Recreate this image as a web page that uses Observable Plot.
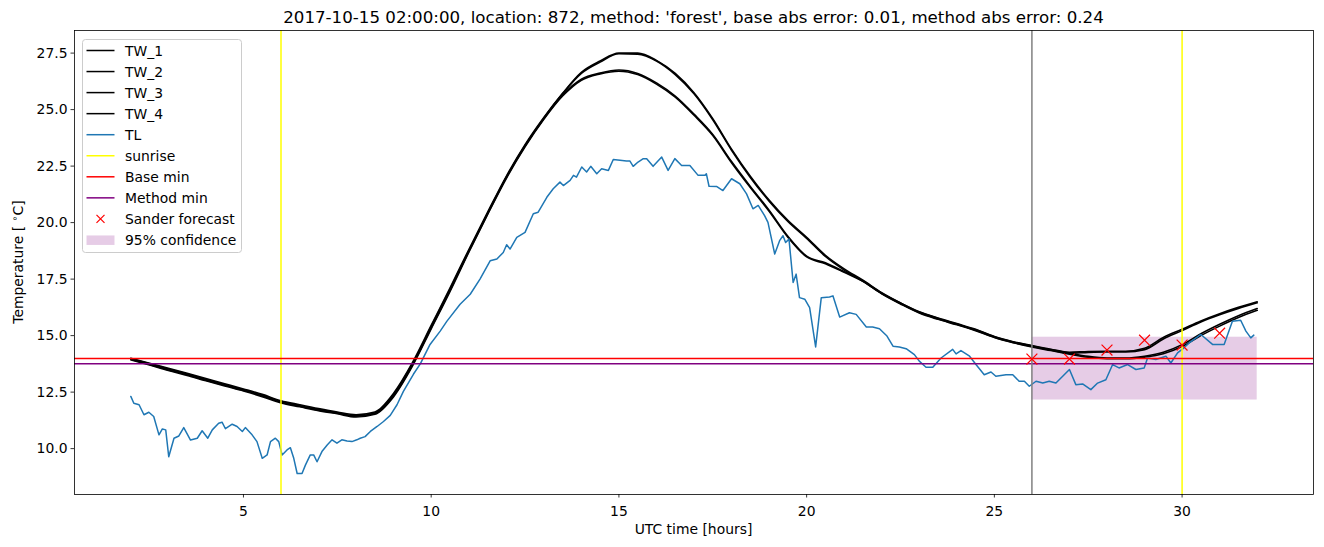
<!DOCTYPE html>
<html><head><meta charset="utf-8">
<script src="https://cdn.jsdelivr.net/npm/d3@7"></script>
<script src="https://cdn.jsdelivr.net/npm/@observablehq/plot@0.6"></script>
<style>
body{margin:0;background:#fff;font-family:"DejaVu Sans",sans-serif;}
#wrap{position:relative;width:1324px;height:547px;}
</style></head><body><div id="wrap"></div>
<script>
const title = "2017-10-15 02:00:00, location: 872, method: 'forest', base abs error: 0.01, method abs error: 0.24";
const xLabel = "UTC time [hours]";

const hours = [2,2.5,3,3.5,4,4.5,5,5.5,6,6.5,7,7.5,8,8.5,9,9.5,10,10.5,11,11.5,12,12.5,13,13.5,14,14.5,15,15.5,16,16.5,17,17.5,18,18.5,19,19.5,20,20.5,21,21.5,22,22.5,23,23.5,24,24.5,25,25.5,26,26.5,27,27.5,28,28.5,29,29.5,30,30.5,31,31.5,32];
const TW_1 = [14.0,13.78,13.56,13.33,13.1,12.87,12.64,12.4,12.12,11.94,11.77,11.62,11.5,11.62,12.45,13.8,15.45,17.1,18.8,20.45,22.05,23.45,24.65,25.72,26.65,27.15,27.5,27.5,27.18,26.6,25.75,24.6,23.25,22.05,21.0,20.1,19.35,18.55,17.95,17.45,16.9,16.45,16.06,15.78,15.53,15.28,14.96,14.73,14.56,14.4,14.26,14.3,14.31,14.31,14.44,14.92,15.28,15.65,15.97,16.25,16.5];
const TW_2 = [13.95,13.72,13.48,13.27,13.03,12.8,12.58,12.33,12.05,11.88,11.7,11.57,11.45,11.55,12.35,13.7,15.35,17.0,18.72,20.38,22.0,23.4,24.62,25.7,26.6,27.1,27.47,27.45,27.15,26.55,25.7,24.55,23.2,22.0,20.95,20.05,19.3,18.5,17.9,17.4,16.86,16.42,16.02,15.74,15.5,15.24,14.93,14.7,14.52,14.36,14.22,14.26,14.28,14.28,14.38,14.85,15.22,15.6,15.92,16.2,16.45];
const TW_3 = [13.98,13.75,13.52,13.3,13.06,12.83,12.6,12.36,12.08,11.9,11.73,11.58,11.44,11.58,12.4,13.75,15.4,17.05,18.75,20.4,22.0,23.4,24.6,25.65,26.35,26.62,26.75,26.6,26.18,25.6,24.8,23.9,22.7,21.6,20.55,19.4,18.52,18.22,17.83,17.42,16.88,16.44,16.04,15.76,15.51,15.26,14.95,14.72,14.54,14.38,14.22,14.08,14.01,14.01,14.09,14.26,14.6,15.08,15.5,15.88,16.2];
const TW_4 = [13.93,13.7,13.46,13.24,13.0,12.77,12.55,12.3,12.02,11.85,11.68,11.54,11.4,11.52,12.3,13.65,15.3,16.95,18.68,20.35,21.95,23.35,24.57,25.6,26.3,26.58,26.7,26.55,26.13,25.55,24.75,23.85,22.65,21.55,20.5,19.35,18.48,18.18,17.8,17.4,16.85,16.4,16.0,15.72,15.48,15.22,14.92,14.69,14.5,14.34,14.18,14.04,13.98,13.98,14.05,14.2,14.52,15.0,15.42,15.8,16.12];

const tlHours = [2.0,2.08,2.22,2.35,2.48,2.61,2.75,2.84,2.93,3.01,3.15,3.28,3.41,3.59,3.77,3.9,4.05,4.17,4.34,4.43,4.52,4.7,4.83,4.97,5.05,5.23,5.36,5.5,5.63,5.72,5.85,5.94,6.03,6.16,6.25,6.34,6.43,6.56,6.65,6.78,6.87,6.96,7.09,7.23,7.36,7.49,7.62,7.76,7.89,8.02,8.11,8.24,8.38,8.56,8.73,8.91,9.09,9.26,9.53,9.71,9.97,10.24,10.42,10.77,11.04,11.3,11.57,11.75,11.92,12.01,12.1,12.28,12.5,12.72,12.85,13.08,13.25,13.43,13.52,13.7,13.79,13.87,14.01,14.14,14.25,14.41,14.54,14.72,14.85,15.03,15.2,15.29,15.38,15.51,15.65,15.74,15.91,16.14,16.31,16.49,16.67,16.89,17.11,17.29,17.33,17.4,17.6,17.77,18.0,18.22,18.4,18.57,18.71,18.88,18.97,19.15,19.28,19.37,19.44,19.53,19.64,19.72,19.81,19.95,20.08,20.24,20.39,20.61,20.7,20.88,21.14,21.32,21.59,21.76,21.94,22.14,22.3,22.47,22.65,22.87,23.0,23.18,23.36,23.58,23.89,23.98,24.11,24.34,24.51,24.73,24.91,25.04,25.31,25.49,25.66,25.8,25.93,26.11,26.29,26.46,26.64,26.82,27.0,27.17,27.35,27.57,27.75,27.97,28.15,28.32,28.55,28.77,28.99,29.08,29.3,29.57,29.7,29.88,30.05,30.19,30.5,30.81,31.12,31.34,31.56,31.7,31.83,31.91];
const TL = [12.31,12.01,11.94,11.5,11.61,11.42,10.61,10.87,10.83,9.64,10.46,10.56,10.93,10.38,10.46,10.79,10.46,10.83,11.12,11.17,10.88,11.08,10.98,10.76,10.93,10.61,10.31,9.57,9.72,10.31,10.46,10.31,9.72,9.94,10.04,9.57,8.9,8.9,9.27,9.72,9.72,9.42,9.87,10.16,10.39,10.24,10.39,10.34,10.31,10.39,10.46,10.53,10.76,10.98,11.2,11.47,11.94,12.53,13.3,13.75,14.61,15.2,15.64,16.39,16.83,17.5,18.31,18.39,18.68,19.02,18.83,19.35,19.57,20.39,20.46,21.12,21.5,21.79,21.64,21.87,22.09,22.01,22.46,22.24,22.49,22.16,22.38,22.31,22.79,22.76,22.73,22.73,22.49,22.68,22.83,22.83,22.49,22.9,22.31,22.83,22.53,22.53,22.09,22.09,22.16,21.61,21.6,21.42,21.94,21.72,21.27,20.61,20.76,20.31,20.01,18.61,19.2,19.42,19.12,19.27,17.35,17.72,16.68,16.61,16.24,14.5,16.68,16.71,16.76,15.82,16.01,15.94,15.38,15.38,15.3,14.98,14.53,14.5,14.42,14.16,13.87,13.6,13.6,14.01,14.39,14.19,14.34,14.09,13.72,13.27,13.39,13.2,13.27,13.27,12.98,12.98,12.76,12.98,12.9,12.98,12.9,13.2,13.5,12.83,12.86,12.61,12.9,13.05,13.72,13.57,13.72,13.5,13.57,14.01,13.94,14.09,13.79,14.24,14.46,14.68,15.05,14.61,14.61,15.64,15.68,15.2,14.9,15.02];

const sunriseHours = [6, 30];
const forecastStart = [26];
const baseMin = [13.99];
const methodMin = [13.76];
const sanderHours = [26, 27, 28, 29, 30, 31];
const sanderValues = [13.96, 13.96, 14.36, 14.8, 14.58, 15.11];
const confStart = [26], confEnd = [32], confLower = [12.15], confUpper = [14.93];

const xTicks = [5, 10, 15, 20, 25, 30];
const yTicks = [10, 12.5, 15, 17.5, 20, 22.5, 25, 27.5];

const legendLabels = ["TW_1","TW_2","TW_3","TW_4","TL","sunrise","Base min","Method min","Sander forecast","95% confidence"];

const twSeries = [["TW_1", TW_1], ["TW_2", TW_2], ["TW_3", TW_3], ["TW_4", TW_4]];
const twData = twSeries.flatMap(([name, vals]) => vals.map((v, i) => ({name, x: hours[i], y: v})));
const tlData = tlHours.map((h, i) => ({x: h, y: TL[i]}));
const sander = sanderHours.map((h, i) => ({x: h, y: sanderValues[i]}));
const conf = confStart.map((s, i) => ({x1: s, x2: confEnd[i], y1: confLower[i], y2: confUpper[i]}));

const F = "DejaVu Sans";
const chart = Plot.plot({
  width: 1324, height: 547,
  marginTop: 30, marginBottom: 53, marginLeft: 74, marginRight: 11,
  style: {fontFamily: F, fontSize: "13.9px", background: "white", color: "black", overflow: "visible"},
  x: {domain: [0.5, 33.5]},
  y: {domain: [7.97, 28.5]},
  marks: [
    Plot.rect(conf, {x1: "x1", x2: "x2", y1: "y1", y2: "y2", fill: "purple", fillOpacity: 0.2}),
    Plot.line(twData, {x: "x", y: "y", z: "name", stroke: "black", strokeWidth: 1.6, curve: "monotone-x"}),
    Plot.line(tlData, {x: "x", y: "y", stroke: "#1f77b4", strokeWidth: 1.5}),
    Plot.ruleX(sunriseHours, {stroke: "#ffff00", strokeWidth: 1.5}),
    Plot.ruleY(baseMin, {stroke: "red", strokeWidth: 1.5}),
    Plot.ruleY(methodMin, {stroke: "purple", strokeWidth: 1.5}),
    Plot.ruleX(forecastStart, {stroke: "gray", strokeWidth: 1.5}),
    Plot.dot(sander, {x: "x", y: "y", symbol: "times", r: 5, stroke: "red", strokeWidth: 1.2}),
    Plot.frame({stroke: "black", strokeWidth: 0.8}),
    Plot.axisX({ticks: xTicks, tickSize: 3.5, tickPadding: 8, strokeWidth: 0.8, fontSize: 13.9, label: null}),
    Plot.axisY({ticks: yTicks, tickFormat: d => d.toFixed(1), tickSize: 3.5, tickPadding: 3.5, strokeWidth: 0.8, fontSize: 13.9, label: null})
  ]
});
const wrap = document.getElementById("wrap");
wrap.appendChild(chart);

const svg = d3.select(chart);
svg.append("text").attr("x", 693.5).attr("y", 23).attr("text-anchor", "middle")
  .attr("font-family", F).attr("font-size", 16.67).attr("fill", "black").text(title);
svg.append("text").attr("x", 693.5).attr("y", 534).attr("text-anchor", "middle")
  .attr("font-family", F).attr("font-size", 13.9).attr("fill", "black").text(xLabel);
const yl = svg.append("text").attr("transform", "translate(23,262) rotate(-90)").attr("text-anchor", "middle")
  .attr("font-family", F).attr("font-size", 13.9).attr("fill", "black");
yl.append("tspan").text("Temperature [ ");
yl.append("tspan").attr("font-size", 9.7).attr("dy", -5).text("∘");
yl.append("tspan").attr("dy", 5).text("C]");

// legend
const lg = svg.append("g").attr("text-anchor", "start");
lg.append("rect").attr("x", 82.5).attr("y", 39.5).attr("width", 159).attr("height", 213).attr("rx", 3)
  .attr("fill", "white").attr("fill-opacity", 0.8).attr("stroke", "#cccccc").attr("stroke-width", 1);
const swatch = ["black","black","black","black","#1f77b4","#ffff00","red","purple"];
legendLabels.forEach((lab, i) => {
  const cy = 50.5 + i * 21.05;
  if (i < 8) {
    lg.append("line").attr("x1", 86.5).attr("x2", 114.5).attr("y1", cy).attr("y2", cy)
      .attr("stroke", swatch[i]).attr("stroke-width", 1.5);
  } else if (i === 8) {
    lg.append("path").attr("d", `M${100.5-4},${cy-4}L${100.5+4},${cy+4}M${100.5-4},${cy+4}L${100.5+4},${cy-4}`)
      .attr("stroke", "red").attr("stroke-width", 1.2);
  } else {
    lg.append("rect").attr("x", 86.5).attr("y", cy - 4.5).attr("width", 28).attr("height", 9.5)
      .attr("fill", "purple").attr("fill-opacity", 0.2);
  }
  lg.append("text").attr("x", 125).attr("y", cy + 5).attr("text-anchor", "start").attr("font-family", F).attr("font-size", 13.9)
    .attr("fill", "black").text(lab);
});
</script></body></html>
